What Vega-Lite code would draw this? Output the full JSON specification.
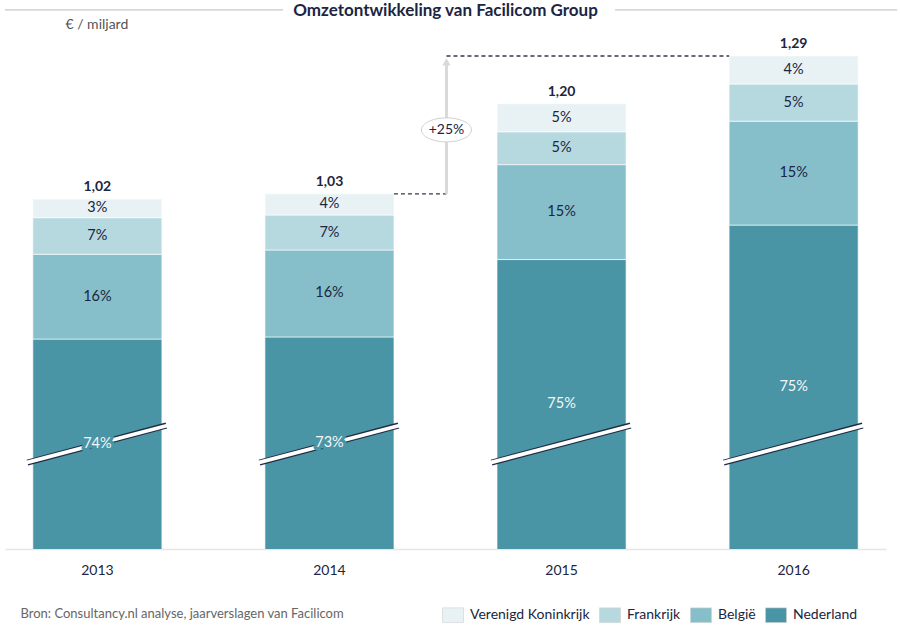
{
  "$schema": "https://vega.github.io/schema/vega-lite/v6.json",
  "width": 881,
  "height": 519,
  "autosize": {"type": "none"},
  "padding": {"left": 5, "top": 30, "right": 14, "bottom": 81},
  "background": "white",
  "config": {
    "font": "Lato",
    "view": {"stroke": null},
    "locale": {"number": {"decimal": ",", "thousands": ".", "grouping": [3], "currency": ["€", ""]}}
  },
  "title": {
    "text": "Omzetontwikkeling van Facilicom Group",
    "fontSize": 17,
    "fontWeight": "bold",
    "color": "#1c2541",
    "anchor": "middle",
    "offset": -11
  },
  "datasets": {
    "omzet": [
      {"year": "2013", "country": "Nederland", "value": 0.756, "pct": 0.74},
      {"year": "2013", "country": "België", "value": 0.160, "pct": 0.16},
      {"year": "2013", "country": "Frankrijk", "value": 0.069, "pct": 0.07},
      {"year": "2013", "country": "Verenigd Koninkrijk", "value": 0.035, "pct": 0.03},
      {"year": "2014", "country": "Nederland", "value": 0.760, "pct": 0.73},
      {"year": "2014", "country": "België", "value": 0.164, "pct": 0.16},
      {"year": "2014", "country": "Frankrijk", "value": 0.066, "pct": 0.07},
      {"year": "2014", "country": "Verenigd Koninkrijk", "value": 0.040, "pct": 0.04},
      {"year": "2015", "country": "Nederland", "value": 0.906, "pct": 0.75},
      {"year": "2015", "country": "België", "value": 0.179, "pct": 0.15},
      {"year": "2015", "country": "Frankrijk", "value": 0.062, "pct": 0.05},
      {"year": "2015", "country": "Verenigd Koninkrijk", "value": 0.053, "pct": 0.05},
      {"year": "2016", "country": "Nederland", "value": 0.971, "pct": 0.75},
      {"year": "2016", "country": "België", "value": 0.196, "pct": 0.15},
      {"year": "2016", "country": "Frankrijk", "value": 0.070, "pct": 0.05},
      {"year": "2016", "country": "Verenigd Koninkrijk", "value": 0.053, "pct": 0.04}
    ],
    "groei": [
      {"from": "2014", "to": "2016", "start": 1.03, "end": 1.29, "label": "+25%"}
    ]
  },
  "data": {"name": "omzet"},
  "transform": [
    {"calculate": "indexof(['Nederland','België','Frankrijk','Verenigd Koninkrijk'], datum.country)", "as": "o"},
    {"stack": "value", "groupby": ["year"], "sort": [{"field": "o", "order": "ascending"}], "as": ["v0", "v1"]},
    {"calculate": "(max(datum.v0, 0.36) + datum.v1) / 2", "as": "mid"}
  ],
  "layer": [
    {
      "mark": {"type": "bar", "clip": true, "stroke": "#ffffff", "strokeWidth": 1, "strokeOpacity": 0.6},
      "encoding": {
        "x": {
          "field": "year",
          "type": "nominal",
          "scale": {"paddingInner": 0.444, "paddingOuter": 0.12},
          "axis": {
            "title": "Bron: Consultancy.nl analyse, jaarverslagen van Facilicom",
            "titleX": 15,
            "titleY": 64,
            "titleAlign": "left",
            "titleBaseline": "middle",
            "titleColor": "#666666",
            "titleFontSize": 13,
            "titleFontWeight": "normal",
            "labelAngle": 0,
            "labelFontSize": 14,
            "labelColor": "#1c2541",
            "labelPadding": 14,
            "ticks": false,
            "tickSize": 0,
            "domainColor": "#e6e6e6",
            "domainWidth": 1.5,
            "grid": false
          }
        },
        "y": {
          "field": "v1",
          "type": "quantitative",
          "scale": {"domain": [0.36, 1.339], "nice": false, "zero": false},
          "axis": {
            "title": "€ / miljard",
            "domain": false,
            "ticks": false,
            "labels": false,
            "grid": false,
            "titleAngle": 0,
            "titleX": 60,
            "titleY": -6,
            "titleAlign": "left",
            "titleBaseline": "middle",
            "titleColor": "#555555",
            "titleFontSize": 14,
            "titleFontWeight": "normal",
            "titlePadding": 0
          }
        },
        "y2": {"field": "v0"},
        "color": {
          "field": "country",
          "type": "nominal",
          "scale": {
            "domain": ["Verenigd Koninkrijk", "Frankrijk", "België", "Nederland"],
            "range": ["#e8f2f4", "#b6d9e0", "#86bfca", "#4a95a5"]
          },
          "legend": {
            "orient": "none",
            "legendX": 437,
            "legendY": 574,
            "direction": "horizontal",
            "title": null,
            "symbolType": "M-1,-0.7L1,-0.7L1,0.7L-1,0.7Z",
            "symbolSize": 441,
            "symbolStrokeColor": "#d0d0d0",
            "symbolStrokeWidth": 0.6,
            "symbolOpacity": 1,
            "labelFontSize": 14,
            "labelColor": "#1c2541",
            "labelOffset": 6,
            "columnPadding": 8
          }
        }
      }
    },
    {
      "transform": [{"filter": "datum.country === 'Nederland'"}],
      "mark": {"type": "rule", "color": "#1f2a44", "strokeWidth": 6, "xOffset": -70, "x2Offset": 69},
      "encoding": {
        "x": {"field": "year", "type": "nominal"},
        "x2": {"field": "year"},
        "y": {"datum": 0.523},
        "y2": {"datum": 0.593}
      }
    },
    {
      "transform": [{"filter": "datum.country === 'Nederland'"}],
      "mark": {"type": "rule", "color": "#ffffff", "strokeWidth": 3.8, "xOffset": -71, "x2Offset": 70},
      "encoding": {
        "x": {"field": "year", "type": "nominal"},
        "x2": {"field": "year"},
        "y": {"datum": 0.523},
        "y2": {"datum": 0.593}
      }
    },
    {
      "transform": [{"filter": "datum.country === 'Nederland'"}],
      "mark": {"type": "text", "fontSize": 14.5, "fill": "#4a95a5", "stroke": "#4a95a5", "strokeWidth": 7, "strokeJoin": "round", "baseline": "middle"},
      "encoding": {
        "x": {"field": "year", "type": "nominal"},
        "y": {"field": "mid", "type": "quantitative"},
        "text": {"field": "pct", "type": "quantitative", "format": ".0%"}
      }
    },
    {
      "transform": [{"filter": "datum.country === 'Nederland'"}],
      "mark": {"type": "text", "fontSize": 14.5, "color": "#f4f8f9", "baseline": "middle"},
      "encoding": {
        "x": {"field": "year", "type": "nominal"},
        "y": {"field": "mid", "type": "quantitative"},
        "text": {"field": "pct", "type": "quantitative", "format": ".0%"}
      }
    },
    {
      "transform": [{"filter": "datum.country !== 'Nederland'"}],
      "mark": {"type": "text", "fontSize": 14.5, "color": "#1c2541", "baseline": "middle"},
      "encoding": {
        "x": {"field": "year", "type": "nominal"},
        "y": {"field": "mid", "type": "quantitative"},
        "text": {"field": "pct", "type": "quantitative", "format": ".0%"}
      }
    },
    {
      "transform": [{"aggregate": [{"op": "sum", "field": "value", "as": "total"}], "groupby": ["year"]}],
      "mark": {"type": "text", "fontSize": 14, "fontWeight": "bold", "color": "#1c2541", "baseline": "middle", "dy": -12},
      "encoding": {
        "x": {"field": "year", "type": "nominal"},
        "y": {"field": "total", "type": "quantitative"},
        "text": {"field": "total", "type": "quantitative", "format": ".2f"}
      }
    },
    {
      "data": {"name": "groei"},
      "mark": {"type": "rule", "color": "#333a4d", "strokeWidth": 1.3, "strokeDash": [4, 3], "xOffset": 64.5, "x2Offset": 117},
      "encoding": {
        "x": {"field": "from", "type": "nominal"},
        "x2": {"field": "from"},
        "y": {"field": "start", "type": "quantitative"}
      }
    },
    {
      "data": {"name": "groei"},
      "mark": {"type": "rule", "color": "#333a4d", "strokeWidth": 1.3, "strokeDash": [4, 3], "xOffset": 117, "x2Offset": -64.5},
      "encoding": {
        "x": {"field": "from", "type": "nominal"},
        "x2": {"field": "to"},
        "y": {"field": "end", "type": "quantitative"}
      }
    },
    {
      "data": {"name": "groei"},
      "mark": {"type": "rule", "color": "#d9d9d9", "strokeWidth": 3, "xOffset": 117, "y2Offset": 8},
      "encoding": {
        "x": {"field": "from", "type": "nominal"},
        "y": {"field": "start", "type": "quantitative"},
        "y2": {"field": "end"}
      }
    },
    {
      "data": {"name": "groei"},
      "mark": {"type": "point", "shape": "triangle-up", "size": 70, "filled": true, "opacity": 1, "color": "#d9d9d9", "xOffset": 117, "yOffset": 6},
      "encoding": {
        "x": {"field": "from", "type": "nominal"},
        "y": {"field": "end", "type": "quantitative"}
      }
    },
    {
      "data": {"name": "groei"},
      "transform": [{"calculate": "(datum.start + datum.end) / 2", "as": "mid"}],
      "mark": {"type": "point", "shape": "M-1,0A1,0.48 0 1,0 1,0A1,0.48 0 1,0 -1,0Z", "size": 2500, "filled": true, "fill": "#ffffff", "stroke": "#cfcfcf", "strokeWidth": 1, "opacity": 1, "xOffset": 117, "yOffset": 5},
      "encoding": {
        "x": {"field": "from", "type": "nominal"},
        "y": {"field": "mid", "type": "quantitative"}
      }
    },
    {
      "data": {"name": "groei"},
      "transform": [{"calculate": "(datum.start + datum.end) / 2", "as": "mid"}],
      "mark": {"type": "text", "fontSize": 14, "color": "#1c2541", "baseline": "middle", "xOffset": 117, "yOffset": 5},
      "encoding": {
        "x": {"field": "from", "type": "nominal"},
        "y": {"field": "mid", "type": "quantitative"},
        "text": {"field": "label"}
      }
    },
    {
      "data": {"values": [{}]},
      "mark": {"type": "rule", "color": "#c8c8c8", "strokeWidth": 1.3, "xOffset": -92.5, "x2Offset": -46.5},
      "encoding": {
        "x": {"datum": "2013", "type": "nominal"},
        "x2": {"datum": "2014"},
        "y": {"datum": 1.377}
      }
    },
    {
      "data": {"values": [{}]},
      "mark": {"type": "rule", "color": "#c8c8c8", "strokeWidth": 1.3, "xOffset": 53.5, "x2Offset": 103.5},
      "encoding": {
        "x": {"datum": "2015", "type": "nominal"},
        "x2": {"datum": "2016"},
        "y": {"datum": 1.377}
      }
    }
  ]
}
